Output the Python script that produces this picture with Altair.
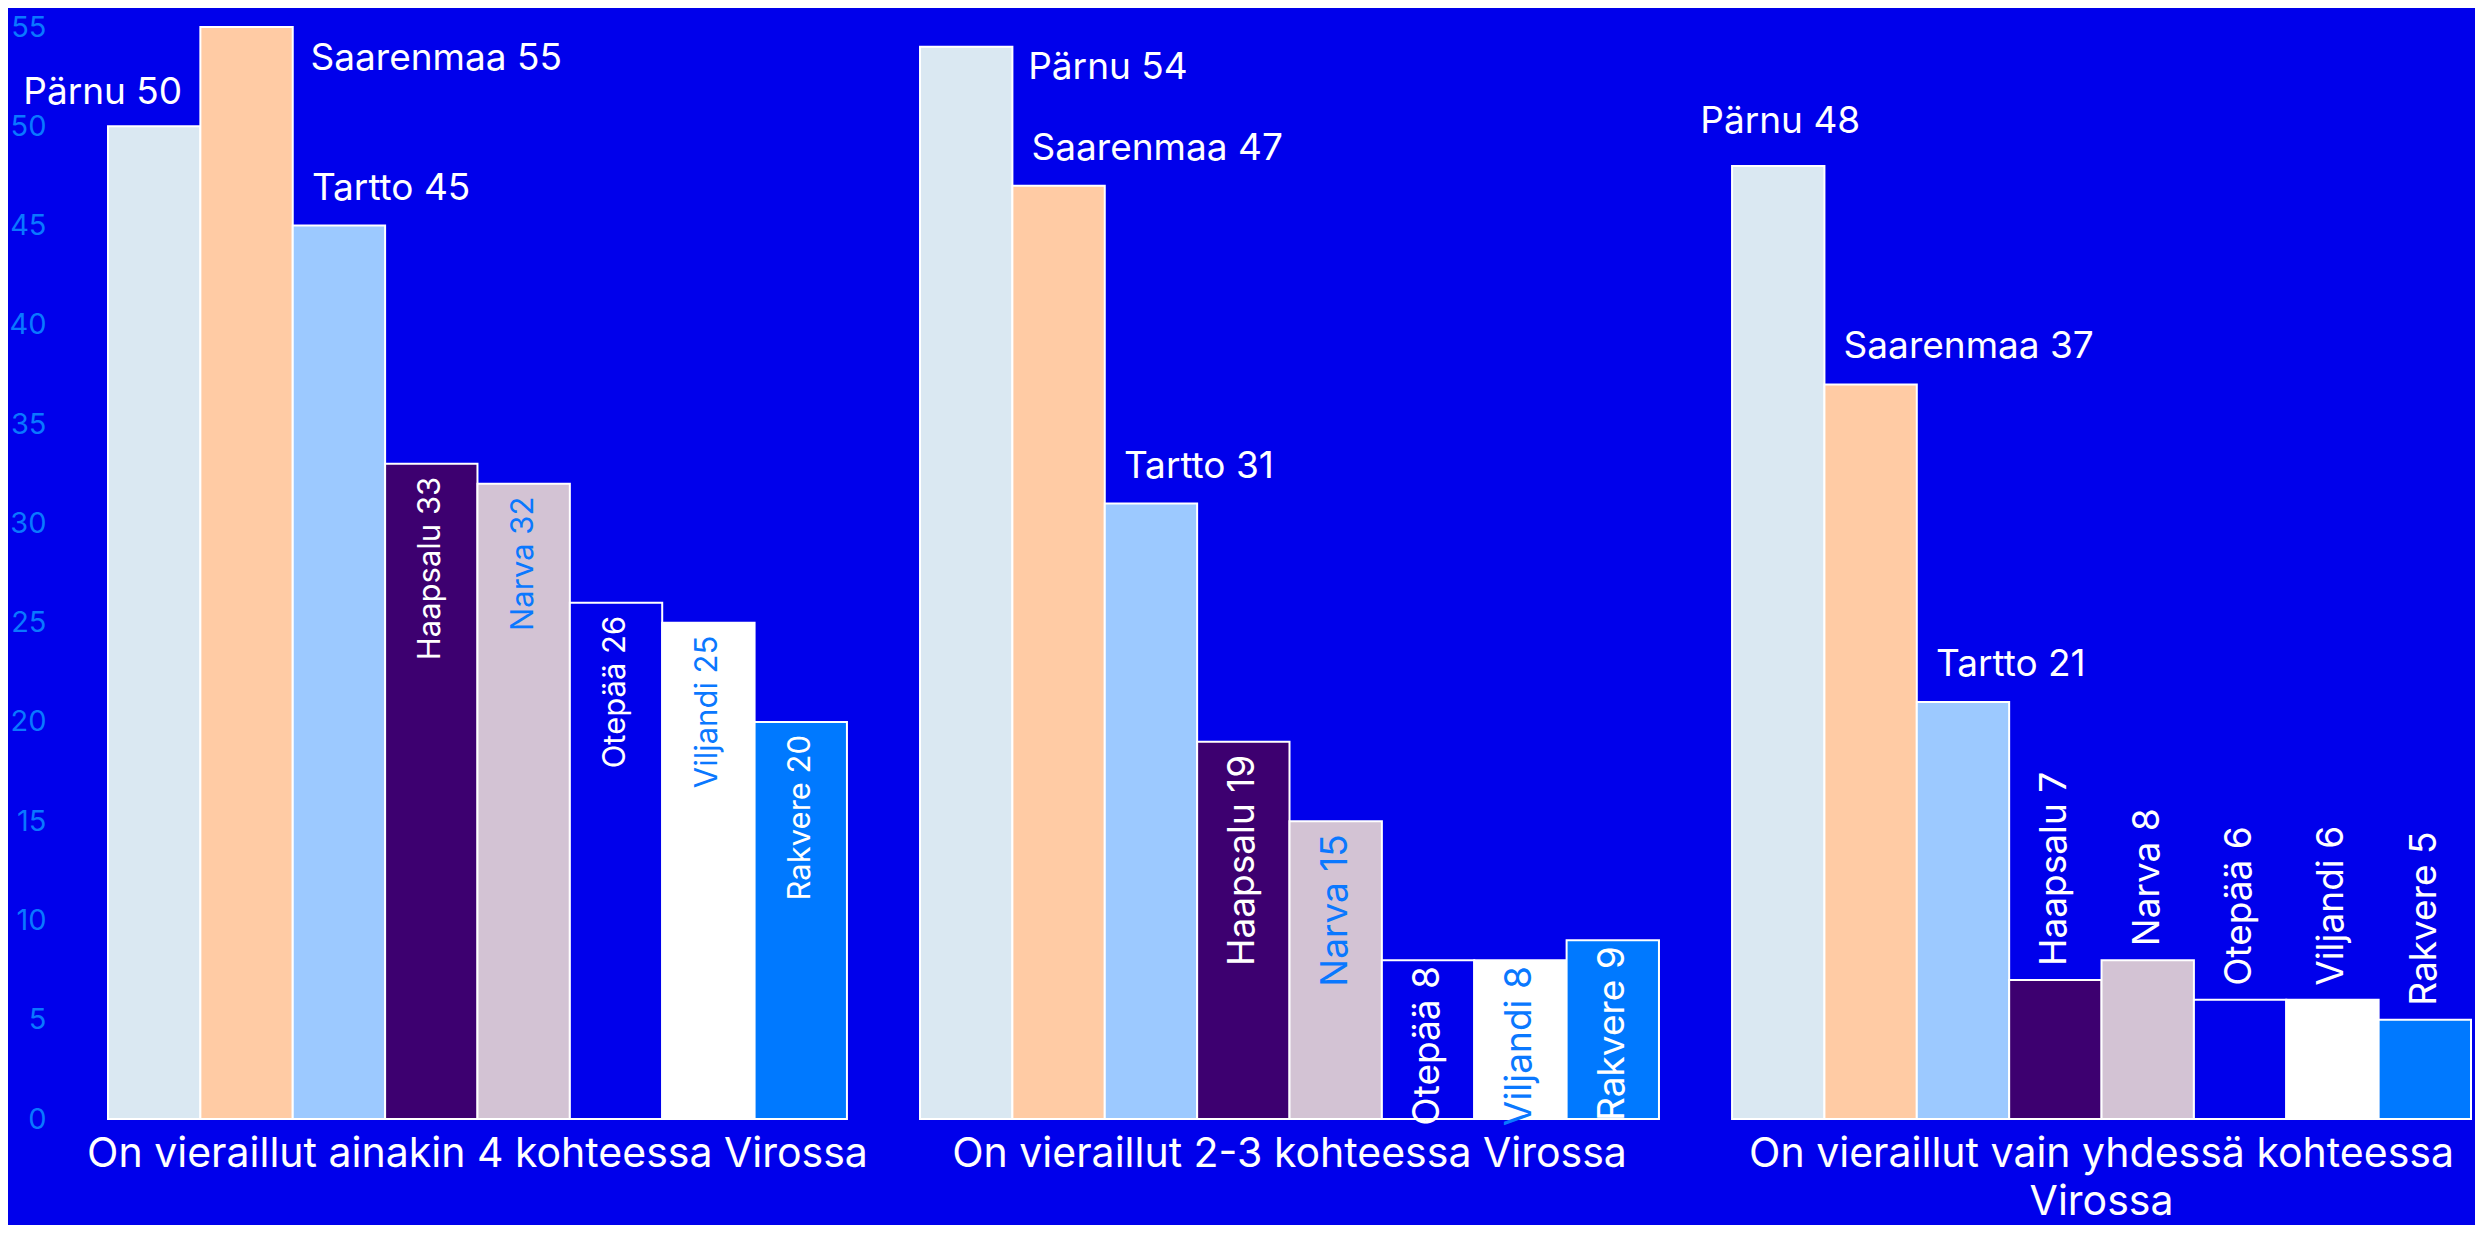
import altair as alt
import pandas as pd

groups = [
    "On vieraillut ainakin 4 kohteessa Virossa",
    "On vieraillut 2-3 kohteessa Virossa",
    "On vieraillut vain yhdessä kohteessa Virossa",
]
cities = ["Pärnu", "Saarenmaa", "Tartto", "Haapsalu", "Narva", "Otepää", "Viljandi", "Rakvere"]
values_g1 = [50, 55, 45, 33, 32, 26, 25, 20]
values_g2 = [54, 47, 31, 19, 15, 8, 8, 9]
values_g3 = [48, 37, 21, 7, 8, 6, 6, 5]
colors = ["#DAE8F2", "#FFCBA4", "#9CC9FF", "#3D0070", "#D3C3D4", "#0000EB", "#FFFFFF", "#0079FF"]
y_ticks = list(range(0, 56, 5))

BG = "#0000EB"
BLUE_TXT = "#0A78FF"
FONT = "Inter"

rows = []
for gi, vals in enumerate([values_g1, values_g2, values_g3]):
    for ci, (c, v) in enumerate(zip(cities, vals)):
        rows.append({"group": groups[gi], "gi": gi, "city": c, "ci": ci, "value": v})
df = pd.DataFrame(rows)

base = alt.Chart(df).transform_calculate(
    label="datum.city + ' ' + datum.value"
).encode(
    x=alt.X(
        "group:N",
        sort=groups,
        scale=alt.Scale(paddingInner=0.09, paddingOuter=0),
        axis=alt.Axis(
            title=None,
            domain=False,
            ticks=False,
            labelAngle=0,
            labelColor="white",
            labelFont=FONT,
            labelFontSize=41,
            labelPadding=15,
            labelLimit=2000,
            labelLineHeight=48,
            labelBaseline="top",
            labelExpr="length(datum.label) > 42 ? [substring(datum.label, 0, lastindexof(datum.label, ' ')), substring(datum.label, lastindexof(datum.label, ' ') + 1)] : datum.label",
        ),
    ),
    xOffset=alt.XOffset("city:N", sort=cities, scale=alt.Scale(paddingInner=0, paddingOuter=0)),
    y=alt.Y(
        "value:Q",
        scale=alt.Scale(domain=[0, 55], nice=False),
        axis=alt.Axis(
            title=None,
            values=y_ticks,
            domain=False,
            ticks=False,
            grid=False,
            labelColor=BLUE_TXT,
            labelFont=FONT,
            labelFontSize=29,
            labelPadding=62,
        ),
    ),
)

bars = base.mark_bar(stroke="white", strokeWidth=2).encode(
    color=alt.Color("city:N", scale=alt.Scale(domain=cities, range=colors), legend=None)
)

def htext(filt, align, dx, dy):
    return base.transform_filter(filt).mark_text(
        align=align, baseline="middle", dx=dx, dy=dy,
        font=FONT, fontSize=37, color="white"
    ).encode(text="label:N")

h_std = htext("(datum.ci == 1 || datum.ci == 2) && !(datum.gi == 0 && datum.ci == 1)", "left", -27, -37)
h_g1_p = htext("datum.gi == 0 && datum.ci == 0", "right", 28, -33)
h_g1_s = htext("datum.gi == 0 && datum.ci == 1", "left", 64, 32)
h_g2_p = htext("datum.gi == 1 && datum.ci == 0", "left", 62, 21)
h_g3_p = htext("datum.gi == 2 && datum.ci == 0", "center", 2, -44)

txt_color = alt.condition(
    "datum.city == 'Narva' || datum.city == 'Viljandi'",
    alt.value(BLUE_TXT),
    alt.value("white"),
)

def vtext(filt, align, dx, size, colored=True):
    ch = base.transform_filter(filt).mark_text(
        align=align, baseline="middle", angle=270, dx=dx,
        font=FONT, fontSize=size
    )
    if colored:
        return ch.encode(text="label:N", color=txt_color)
    return ch.encode(text="label:N", color=alt.value("white"))

v_g1 = vtext("datum.gi == 0 && datum.ci >= 3", "right", -13, 31)
v_g2a = vtext("datum.gi == 1 && (datum.ci == 3 || datum.ci == 4)", "right", -13, 37)
v_g2b = vtext("datum.gi == 1 && datum.ci >= 5", "right", -6, 37)
v_g3 = vtext("datum.gi == 2 && datum.ci >= 3", "left", 14, 37, colored=False)

chart = alt.layer(
    bars, h_std, h_g1_p, h_g1_s, h_g2_p, h_g3_p, v_g1, v_g2a, v_g2b, v_g3
).properties(
    width=2363,
    height=1092,
    autosize=alt.AutoSizeParams(type="none"),
    padding={"left": 100, "top": 19, "right": 4, "bottom": 106},
    background=BG,
).configure_view(stroke=None)

chart.save("out.html", embed_options={"renderer": "svg", "actions": False})
